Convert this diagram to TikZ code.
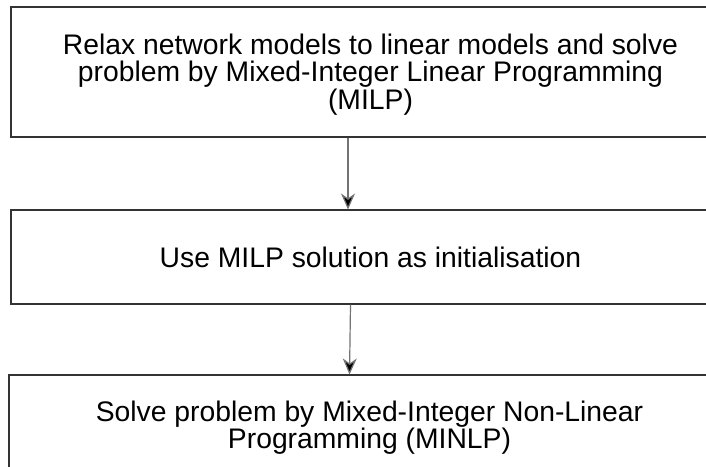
\documentclass[tikz,border=0pt]{standalone}
\usepackage{fontspec}
\setmainfont{Liberation Sans}
\usetikzlibrary{arrows.meta}
\begin{document}
\begin{tikzpicture}[x=1pt,y=-1pt,
  stage/.style={draw=black!80, line width=1.1pt, rectangle, align=center,
    inner sep=0pt, font=\fontsize{28.3}{27.5}\selectfont},
  flow/.style={draw=black!55, line width=1.2pt,
    -{Stealth[length=16pt,width=14pt,inset=5pt,fill=black]}}]
\useasboundingbox (0,0) rectangle (706,466);
\clip (0,0) rectangle (706,466);
\fill[white] (0,0) rectangle (706,466);
\node[stage, minimum width=719pt, minimum height=130pt] (relax) at (370.5,72)
  {\rule{0pt}{25pt}Relax network models to linear models and solve\\problem by Mixed-Integer Linear Programming\\(MILP)};
\node[stage, minimum width=719pt, minimum height=94pt, text depth=-1.4pt] (init) at (370.5,257)
  {Use MILP solution as initialisation};
\node[stage, minimum width=721pt, minimum height=98.4pt] (minlp) at (369.5,424.2)
  {\rule{0pt}{27pt}Solve problem by Mixed-Integer Non-Linear\\Programming (MINLP)};
\draw[flow] ([xshift=-22.5pt]relax.south) -- ([xshift=-22.5pt]init.north);
\draw[flow] ([xshift=-20pt]init.south) -- ([xshift=-20pt]minlp.north);
\end{tikzpicture}
\end{document}
